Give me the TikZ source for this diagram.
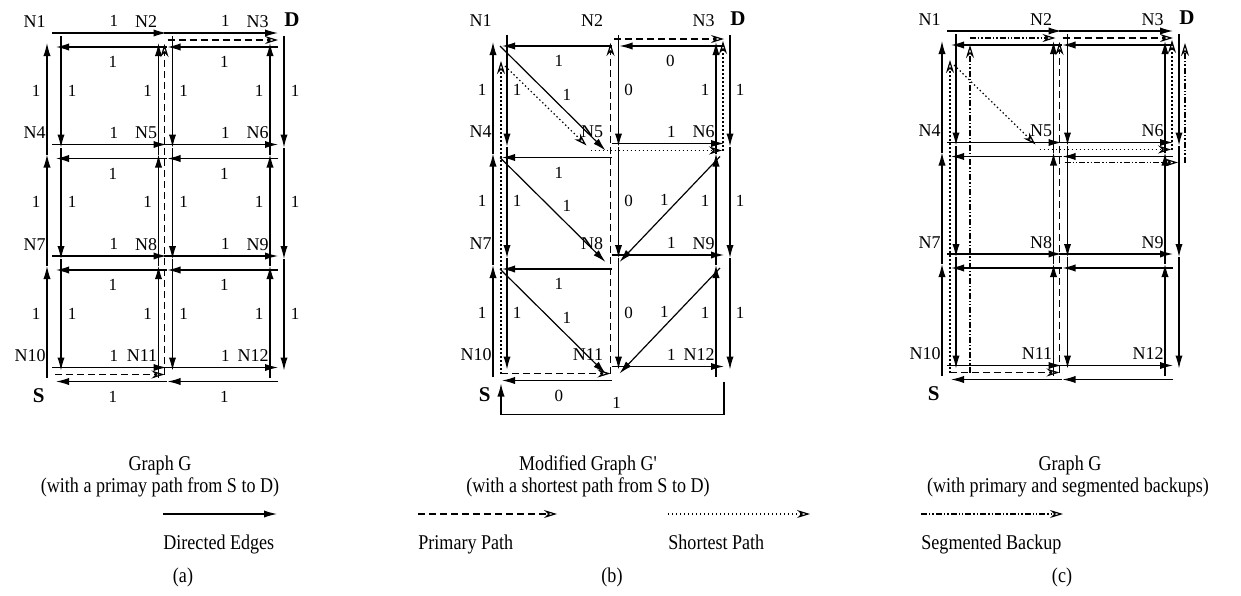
\documentclass[tikz,border=0pt]{standalone}
\usepackage{fontspec}
\setmainfont{Liberation Serif}
\newfontfamily\capfont{Liberation Serif}[FakeStretch=0.86]
\usetikzlibrary{arrows.meta, calc, positioning}

\tikzset{
  edge/.style={line width=0.6pt, -{Latex[length=6.5pt,width=3.6pt]}},
  primary/.style={line width=0.6pt, dash pattern=on 3.5pt off 2pt, -{Stealth[open,length=6.5pt,width=4pt]}},
  shortest/.style={line width=0.6pt, dash pattern=on 0.7pt off 1.3pt, -{Stealth[open,length=6.5pt,width=4pt]}},
  backup/.style={line width=0.6pt, dash pattern=on 3pt off 1pt on 0.7pt off 1pt on 0.7pt off 1pt, -{Stealth[open,length=6.5pt,width=4pt]}},
  wt/.style={font=\fontsize{8.5}{9}\selectfont, inner sep=0pt},
  nlabel/.style={font=\fontsize{9}{10}\selectfont, inner sep=0pt, anchor=base east},
  endpt/.style={font=\fontsize{10.5}{12}\selectfont\bfseries, inner sep=0pt},
  caption/.style={font=\capfont\fontsize{10.5}{12}\selectfont, inner sep=0pt},
}

\begin{document}
\begin{tikzpicture}[x=0.5pt, y=-0.5pt]
    \useasboundingbox (0,0) rectangle (1241,595);

    % Grid positions N1..N12 of the three graphs
    \foreach \g/\ox/\oy in {a/54/40, b/500/39, c/949/38} {
      \foreach \i in {1,...,12} {
        \pgfmathtruncatemacro\cc{mod(\i-1,3)}
        \pgfmathtruncatemacro\rr{div(\i-1,3)}
        \coordinate (\g\i) at ({\ox+111.5*\cc}, {\oy+111.5*\rr});
      }
    }

    % Node names, source and destination
    \foreach \g in {a,b,c} {
      \foreach \i in {1,...,12}
        \node[nlabel] (n\g\i) at ($(\g\i)+(-8,-13)$) {N\i};
      \node[endpt, anchor=base west] (d\g) at ($(\g3)+(7,-14)$) {D};
      \node[endpt, anchor=base east] (s\g) at ($(\g10)+(-9,28)$) {S};
    }

    % Directed edges of G in (a) and (c)
    \foreach \g in {a,c} {
      \foreach \p/\q in {1/2,2/3,4/5,5/6,7/8,8/9,10/11,11/12}
        \draw[edge] ($(\g\p)+(-2,-7)$) -- ($(\g\q)+(1,-7)$);
      \foreach \p/\q in {3/2,2/1,6/5,5/4,9/8,8/7,12/11,11/10}
        \draw[edge] ($(\g\p)+(1,7)$) -- ($(\g\q)+(2,7)$);
      \foreach \p/\q in {4/1,7/4,10/7,5/2,8/5,11/8,6/3,9/6,12/9}
        \draw[edge] ($(\g\p)+(-7,3)$) -- ($(\g\q)+(-7,3)$);
      \foreach \p/\q in {1/4,4/7,7/10,2/5,5/8,8/11,3/6,6/9,9/12}
        \draw[edge] ($(\g\p)+(7,-4)$) -- ($(\g\q)+(7,-4)$);
    }

    % Weights of G in (a)
    \foreach \p/\q in {1/2,2/3,4/5,5/6,7/8,8/9,10/11,11/12} {
      \node[wt] (ra\p\q) at ($(a\p)!0.5!(a\q)+(4,-19)$) {1};
      \node[wt] (la\p\q) at ($(a\p)!0.5!(a\q)+(3,22)$) {1};
    }
    \foreach \p/\q in {1/4,4/7,7/10,2/5,5/8,8/11,3/6,6/9,9/12} {
      \node[wt] (ua\p\q) at ($(a\p)!0.5!(a\q)+(-18,-5)$) {1};
      \node[wt] (da\p\q) at ($(a\p)!0.5!(a\q)+(18,-5)$) {1};
    }

    % Modified graph G' in (b)
    \foreach \p/\q/\w in {2/1/1, 5/4/1, 8/7/1, 11/10/0} {
      \draw[edge] ($(b\p)+(0,7)$) -- ($(b\q)+(2,7)$);
      \node[wt] (lb\p\q) at ($(b\p)!0.5!(b\q)+(3,22)$) {\w};
    }
    \draw[edge] ($(b3)+(1,7)$) -- ($(b2)+(8,7)$);
    \node[wt] (lb32) at ($(b3)!0.5!(b2)+(3,22)$) {0};
    \foreach \p/\q in {5/6, 8/9, 11/12} {
      \draw[edge] ($(b\p)+(0,-7)$) -- ($(b\q)+(1,-7)$);
      \node[wt] (rb\p\q) at ($(b\p)!0.5!(b\q)+(4,-19)$) {1};
    }
    \foreach \p/\q in {4/1,7/4,10/7,6/3,9/6,12/9} {
      \draw[edge] ($(b\p)+(-7,3)$) -- ($(b\q)+(-7,3)$);
      \node[wt] (ub\p\q) at ($(b\p)!0.5!(b\q)+(-18,-5)$) {1};
    }
    \foreach \p/\q/\w in {1/4/1,4/7/1,7/10/1,2/5/0,5/8/0,8/11/0,3/6/1,6/9/1,9/12/1} {
      \draw[edge] ($(b\p)+(7,-4)$) -- ($(b\q)+(7,-4)$);
      \node[wt] (db\p\q) at ($(b\p)!0.5!(b\q)+(17,-5)$) {\w};
    }
    \foreach \p/\q in {1/5, 4/8, 7/11} {
      \draw[edge] ($(b\p)+(0,7)$) -- ($(b\q)+(-6,0)$);
      \node[wt] (xb\p\q) at ($(b\p)!0.5!(b\q)+(11,0)$) {1};
    }
    \foreach \p/\q in {6/8, 9/11} {
      \draw[edge] ($(b\p)+(-3,6)$) -- ($(b\q)+(8,0)$);
      \node[wt] (xb\p\q) at ($(b\p)!0.5!(b\q)+(-3,-6)$) {1};
    }
    \draw[edge] ($(b12)+(1,8)$) -- ++(0,33) -| ($(b10)+(1,10)$);
    \node[wt] (lb1210) at ($(b11)+(5,29)$) {1};

    % Primary path S-N11-N2-D
    \foreach \g in {a,b,c} {
      \draw[primary] ($(\g10)+(1,0)$) -- ($(\g11)+(-1,0)$);
      \draw[primary] ($(\g11)+(-1,0)$) -- ($(\g2)+(-1,4)$);
      \draw[primary] ($(\g2)+(2,0)$) -- ($(\g3)+(1,0)$);
    }

    % Shortest path in G'
    \foreach \g in {b,c} {
      \draw[shortest] ($(\g10)+(1,0)$) -- ($(\g1)+(1,22)$);
      \draw[shortest] ($(\g1)+(5,27)$) -- ($(\g5)+(-25,-5)$);
      \draw[shortest] ($(\g5)+(-21,0)$) -- ($(\g6)+(-1,0)$);
      \draw[shortest] (\g6) -- ($(\g3)+(0,2)$);
    }

    % Segmented backups
    \draw[backup] ($(c10)+(21,0)$) -- ($(c1)+(21,7)$);
    \draw[backup] ($(c1)+(21,0)$) -- ($(c2)+(-5,0)$);
    \draw[backup] ($(c5)+(4,13)$) -- ($(c6)+(6,13)$);
    \draw[backup] ($(c6)+(13,13)$) -- ($(c3)+(13,5)$);

    % Captions
    \node[caption] (ta1) at (160,465) {Graph G};
    \node[caption] (ta2) at (160,487) {(with a primay path from S to D)};
    \node[caption] (ta3) at (183,577) {(a)};
    \node[caption] (tb1) at (588,465) {Modified Graph G'};
    \node[caption] (tb2) at (588,487) {(with a shortest path from S to D)};
    \node[caption] (tb3) at (612,577) {(b)};
    \node[caption] (tc1) at (1070,465) {Graph G};
    \node[caption] (tc2) at (1068,487) {(with primary and segmented backups)};
    \node[caption] (tc3) at (1062,577) {(c)};

    % Legend
    \coordinate (ls1) at (163,514);  \coordinate (le1) at (277,514);
    \coordinate (ls2) at (418,514);  \coordinate (le2) at (557,514);
    \coordinate (ls3) at (668,514);  \coordinate (le3) at (810,514);
    \coordinate (ls4) at (921,514);  \coordinate (le4) at (1063,514);
    \draw[edge] (ls1) -- (le1);
    \draw[primary] (ls2) -- (le2);
    \draw[shortest] (ls3) -- (le3);
    \draw[backup] (ls4) -- (le4);
    \node[caption, anchor=base west] (lt1) at (163,549) {Directed Edges};
    \node[caption, anchor=base west] (lt2) at (418,549) {Primary Path};
    \node[caption, anchor=base west] (lt3) at (668,549) {Shortest Path};
    \node[caption, anchor=base west] (lt4) at (921,549) {Segmented Backup};
\end{tikzpicture}
\end{document}
